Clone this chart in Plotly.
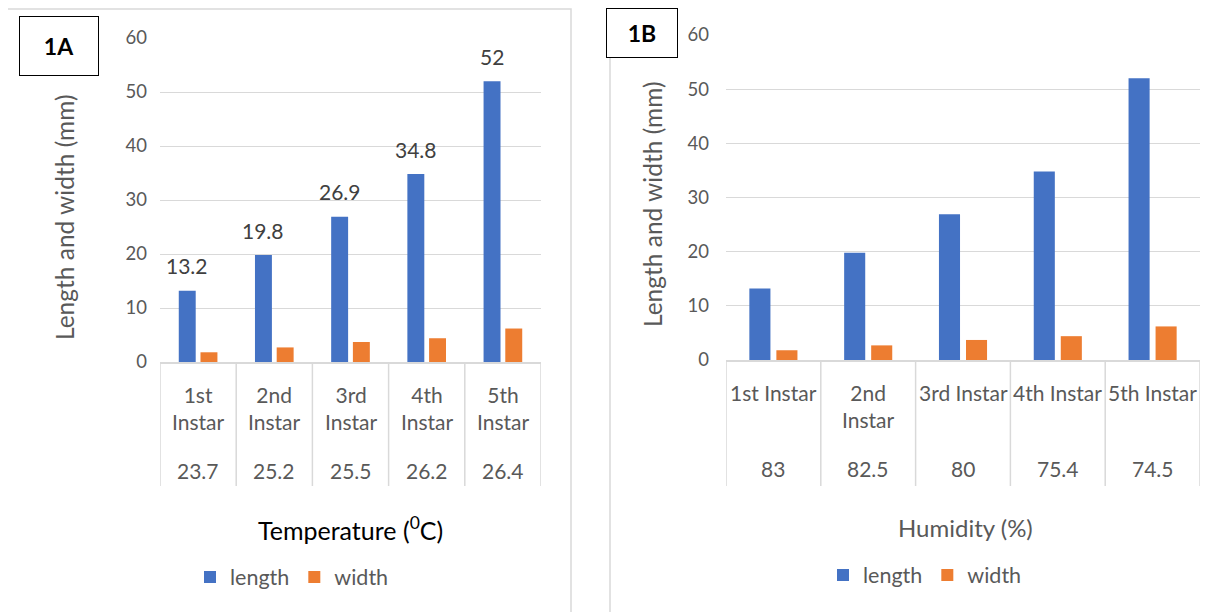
import plotly.graph_objects as go

# ---------------- data ----------------
categories = ["1st Instar", "2nd Instar", "3rd Instar", "4th Instar", "5th Instar"]
labels_a = ["1st<br>Instar", "2nd<br>Instar", "3rd<br>Instar", "4th<br>Instar", "5th<br>Instar"]
labels_b = ["1st Instar", "2nd<br>Instar", "3rd Instar", "4th Instar", "5th Instar"]
temperature = ["23.7", "25.2", "25.5", "26.2", "26.4"]
humidity = ["83", "82.5", "80", "75.4", "74.5"]
length_mm = [13.2, 19.8, 26.9, 34.8, 52]
width_mm = [1.8, 2.7, 3.7, 4.4, 6.2]
y_ticks = [0, 10, 20, 30, 40, 50, 60]

# ---------------- style ----------------
W, H = 1223, 612
OFF = 8  # page body margin in the viewer
BLUE = "#4472C4"
ORANGE = "#ED7D31"
GRID = "#D9D9D9"
GRAY = "#595959"
FONT = "Lato"
BARGAP = 0.43
BARGROUPGAP = 0.22


def px(x):
    return (x - OFF) / W


def py(y):
    return 1 - (y - OFF) / H


# panel geometry (screen pixels)
A_X0, A_X1, A_Y0, A_Y60 = 160, 541, 362, 38
B_X0, B_X1, B_Y0, B_Y60 = 726, 1200, 360, 35

fig = go.Figure()

for xa, ya, lg in (("x", "y", "legend"), ("x2", "y2", "legend2")):
    fig.add_trace(go.Bar(x=categories, y=length_mm, name="length", marker_color=BLUE,
                         marker_line_width=0, xaxis=xa, yaxis=ya, legend=lg))
    fig.add_trace(go.Bar(x=categories, y=width_mm, name="width", marker_color=ORANGE,
                         marker_line_width=0, xaxis=xa, yaxis=ya, legend=lg))

xcommon = dict(type="category", showticklabels=False, ticks="", showline=True,
               linecolor=GRID, linewidth=1.5, showgrid=False, zeroline=False,
               range=[-0.5, len(categories) - 0.5], fixedrange=True, automargin=False)
ycommon = dict(range=[0, 60], tickvals=y_ticks, showgrid=True, gridcolor=GRID,
               gridwidth=1.3, showline=False, zeroline=False, ticks="",
               tickfont=dict(family=FONT, size=18.5, color=GRAY), fixedrange=True,
               automargin=False)

fig.update_layout(
    width=W, height=H,
    margin=dict(l=0, r=0, t=0, b=0, pad=0, autoexpand=False),
    paper_bgcolor="white", plot_bgcolor="white",
    barmode="group", bargap=BARGAP, bargroupgap=BARGROUPGAP,
    font=dict(family=FONT, color=GRAY),
    xaxis=dict(domain=[px(A_X0), px(A_X1)], anchor="y", **xcommon),
    yaxis=dict(domain=[py(A_Y0), py(A_Y60)], anchor="x", ticklabelstandoff=12, **ycommon),
    xaxis2=dict(domain=[px(B_X0), px(B_X1)], anchor="y2", **xcommon),
    yaxis2=dict(domain=[py(B_Y0), py(B_Y60)], anchor="x2", ticklabelstandoff=16, **ycommon),
    legend=dict(orientation="h", x=px(292), y=py(577), xanchor="center", yanchor="middle",
                font=dict(family=FONT, size=21.5, color=GRAY), bgcolor="rgba(0,0,0,0)",
                itemwidth=30, tracegroupgap=0),
    legend2=dict(orientation="h", x=px(925), y=py(575), xanchor="center", yanchor="middle",
                 font=dict(family=FONT, size=21.5, color=GRAY), bgcolor="rgba(0,0,0,0)",
                 itemwidth=30, tracegroupgap=0),
    showlegend=True,
)

shapes = []
# panel borders
shapes.append(dict(type="path", xref="paper", yref="paper",
                   path=f"M {px(7)},{py(H + 20)} L {px(7)},{py(9)} L {px(571)},{py(9)} L {px(571)},{py(H + 20)}",
                   line=dict(color=GRID, width=1.5)))
shapes.append(dict(type="path", xref="paper", yref="paper",
                   path=f"M {px(610)},{py(H + 20)} L {px(610)},{py(5)} L {px(W + 20)},{py(5)}",
                   line=dict(color=GRID, width=1.5)))
# table dividers under the category axes
for xa, ytop in (("x", A_Y0), ("x2", B_Y0)):
    for i in range(len(categories) + 1):
        shapes.append(dict(type="line", xref=xa, yref="paper", x0=i - 0.5, x1=i - 0.5,
                           y0=py(ytop), y1=py(486), line=dict(color=GRID, width=1.5)))
fig.update_layout(shapes=shapes)

ann = []
lab_font = dict(family=FONT, size=21, color=GRAY)
cat_px = (A_X1 - A_X0) / len(categories)
for i, c in enumerate(categories):
    ann.append(dict(x=c, xref="x", y=py(380), yref="paper", text=labels_a[i], showarrow=False,
                    yanchor="top", xanchor="center", font=lab_font))
    ann.append(dict(x=c, xref="x", y=py(470), yref="paper", text=temperature[i], showarrow=False,
                    yanchor="middle", xanchor="center", font=lab_font))
    ann.append(dict(x=c, xref="x2", y=py(378), yref="paper", text=labels_b[i], showarrow=False,
                    yanchor="top", xanchor="center", font=lab_font))
    ann.append(dict(x=c, xref="x2", y=py(468), yref="paper", text=humidity[i], showarrow=False,
                    yanchor="middle", xanchor="center", font=lab_font))
    # data labels over the length bars in panel A
    ann.append(dict(x=c, xref="x", y=length_mm[i], yref="y", text=f"{length_mm[i]:g}",
                    showarrow=False, yanchor="middle", xanchor="center",
                    xshift=-(1 - BARGAP) / 4 * cat_px, yshift=25,
                    font=dict(family=FONT, size=21, color="#404040")))

# axis titles
ann.append(dict(x=px(350), y=py(528), xref="paper", yref="paper", showarrow=False,
                xanchor="center", yanchor="middle",
                text="Temperature (<sup>0</sup>C)", font=dict(family=FONT, size=25, color="black")))
ann.append(dict(x=px(965), y=py(527), xref="paper", yref="paper", showarrow=False,
                xanchor="center", yanchor="middle",
                text="Humidity (%)", font=dict(family=FONT, size=24, color=GRAY)))
ann.append(dict(x=px(64), y=py(218), xref="paper", yref="paper", showarrow=False, textangle=-90,
                xanchor="center", yanchor="middle",
                text="Length and width (mm)", font=dict(family=FONT, size=24.5, color=GRAY)))
ann.append(dict(x=px(653), y=py(204), xref="paper", yref="paper", showarrow=False, textangle=-90,
                xanchor="center", yanchor="middle",
                text="Length and width (mm)", font=dict(family=FONT, size=24.5, color=GRAY)))
# panel tags
ann.append(dict(x=px(59), y=py(46), xref="paper", yref="paper", showarrow=False, text="<b>1A</b>",
                xanchor="center", yanchor="middle",
                width=78, height=58, borderpad=0, bordercolor="black", borderwidth=1, bgcolor="white",
                font=dict(family=FONT, size=23, color="black")))
ann.append(dict(x=px(642), y=py(33), xref="paper", yref="paper", showarrow=False, text="<b>1B</b>",
                xanchor="center", yanchor="middle",
                width=70, height=48, borderpad=0, bordercolor="black", borderwidth=1, bgcolor="white",
                font=dict(family=FONT, size=23, color="black")))
fig.update_layout(annotations=ann)

fig.write_html("out.html")
